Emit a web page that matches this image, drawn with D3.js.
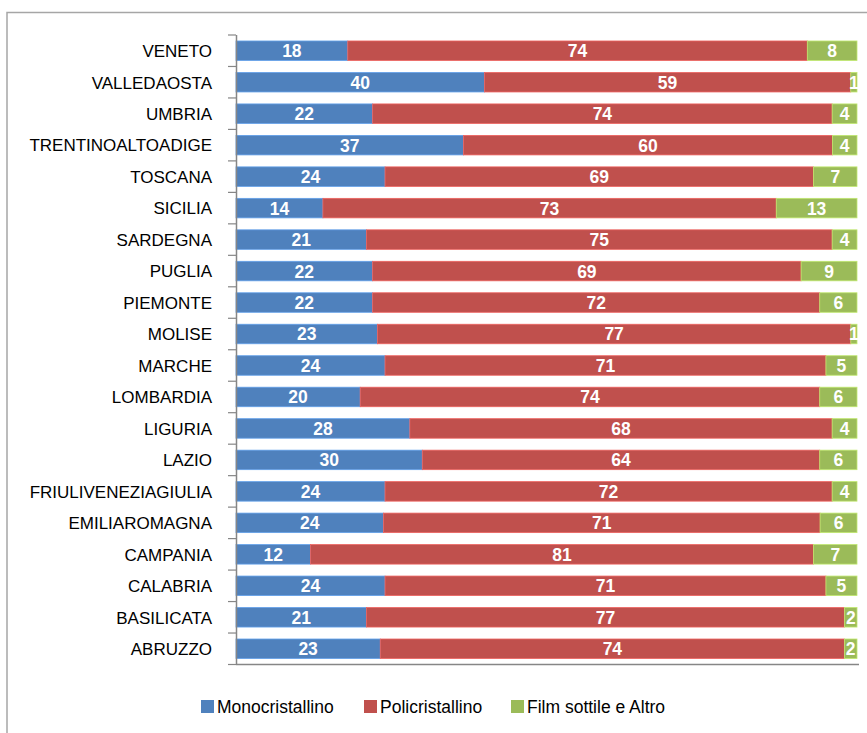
<!DOCTYPE html>
<html><head><meta charset="utf-8">
<script src="https://cdn.jsdelivr.net/npm/d3@7"></script>
<style>body{margin:0;background:#fff;} svg{display:block;}</style>
</head><body>
<script>
const categories = ["VENETO","VALLEDAOSTA","UMBRIA","TRENTINOALTOADIGE","TOSCANA","SICILIA","SARDEGNA","PUGLIA","PIEMONTE","MOLISE","MARCHE","LOMBARDIA","LIGURIA","LAZIO","FRIULIVENEZIAGIULIA","EMILIAROMAGNA","CAMPANIA","CALABRIA","BASILICATA","ABRUZZO"];
const mono = [18,40,22,37,24,14,21,22,22,23,24,20,28,30,24,24,12,24,21,23];
const poli = [74,59,74,60,69,73,75,69,72,77,71,74,68,64,72,71,81,71,77,74];
const film = [8,1,4,4,7,13,4,9,6,1,5,6,4,6,4,6,7,5,2,2];
const seriesNames = ["Monocristallino","Policristallino","Film sottile e Altro"];
const colors = ["#4F81BD","#C0504D","#9BBB59"];

const W = 867, H = 733;
const svg = d3.select("body").append("svg").attr("width", W).attr("height", H);
const font = "'Liberation Sans', Arial, sans-serif";

// outer frame
svg.append("path").attr("d", "M7,740 V12.5 H880").attr("fill","none").attr("stroke","#a6a6a6").attr("stroke-width",1.5);

const rows = categories.map((c,i)=>({cat:c, vals:[mono[i],poli[i],film[i]]}));
const x = d3.scaleLinear().domain([0,1]).range([236,857]);
const y = d3.scaleBand().domain(categories).range([35,664.5]).paddingInner(0.38).paddingOuter(0.19);

const g = svg.append("g");
rows.forEach(r=>{
  const tot = d3.sum(r.vals);
  let acc = 0;
  r.vals.forEach((v,k)=>{
    const x0 = x(acc/tot), x1 = x((acc+v)/tot);
    acc += v;
    g.append("rect").attr("x",x0).attr("y",y(r.cat)).attr("width",x1-x0).attr("height",y.bandwidth())
      .attr("fill",colors[k]).attr("stroke", d3.color(colors[k]).brighter(0.6)).attr("stroke-width",0.8);
  });
  acc = 0;
  r.vals.forEach((v,k)=>{
    const x0 = x(acc/tot), x1 = x((acc+v)/tot);
    acc += v;
    g.append("text").attr("x",(x0+x1)/2).attr("y",y(r.cat)+y.bandwidth()/2).attr("dy","0.37em")
      .attr("text-anchor","middle").attr("fill","#fff").attr("font-weight","bold")
      .attr("font-family",font).attr("font-size",17.5).text(v);
  });
});

// y axis with boundary ticks
const yAxisG = svg.append("g");
yAxisG.append("line").attr("x1",236.5).attr("x2",236.5).attr("y1",35).attr("y2",665).attr("stroke","#868686").attr("stroke-width",1.5);
const step = (664.5-35)/categories.length;
d3.range(categories.length+1).forEach(i=>{
  const yy = 35 + i*step;
  yAxisG.append("line").attr("x1",228).attr("x2",236).attr("y1",yy).attr("y2",yy).attr("stroke","#868686").attr("stroke-width",1.2);
});
categories.forEach(c=>{
  yAxisG.append("text").attr("x",212).attr("y",y(c)+y.bandwidth()/2).attr("dy","0.37em")
    .attr("text-anchor","end").attr("font-family",font).attr("font-size",17).attr("fill","#000").text(c);
});
// bottom axis line
svg.append("line").attr("x1",236).attr("x2",859).attr("y1",664.5).attr("y2",664.5).attr("stroke","#868686").attr("stroke-width",1.5);

// legend
const legX = [201,364,511];
seriesNames.forEach((n,k)=>{
  svg.append("rect").attr("x",legX[k]).attr("y",700).attr("width",13).attr("height",13).attr("fill",colors[k]);
  svg.append("text").attr("x",legX[k]+16).attr("y",706.5).attr("dy","0.37em").attr("font-family",font)
    .attr("font-size",17.5).attr("fill","#000").text(n);
});
</script>
</body></html>
